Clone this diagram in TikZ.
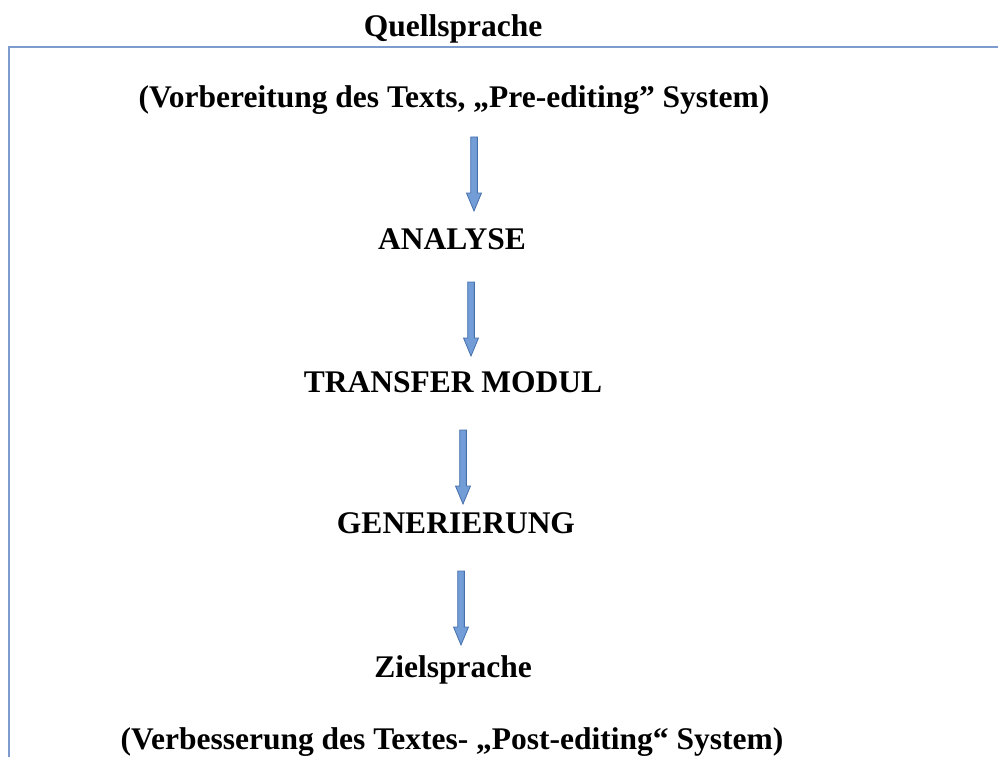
\documentclass[tikz,border=0pt]{standalone}
\usepackage{fontspec}
\setmainfont{Liberation Serif}
\usepackage{tikz}
\definecolor{framecol}{RGB}{125,155,205}
\definecolor{arrowfill}{RGB}{114,157,214}
\definecolor{arrowline}{RGB}{70,112,172}
\tikzset{
  stage/.style={anchor=base, inner sep=0pt, font=\fontsize{31.5}{36}\bfseries\selectfont},
  blockarr/.style={fill=arrowfill, draw=arrowline, line width=0.8pt, line join=miter}
}
% block arrow hanging from a named coordinate
\newcommand{\downarr}[1]{%
  \filldraw[blockarr] ($(#1)+(-3.35,0)$) -- ++(0,56) -- ++(-4.15,0)
    -- ++(7.5,18) -- ++(7.5,-18) -- ++(-4.15,0) -- ++(0,-56) -- cycle;}
\usetikzlibrary{calc}

\begin{document}
\begin{tikzpicture}[x=1pt,y=-1pt]
        \useasboundingbox (0,0) rectangle (998,757);
        \draw[framecol, line width=1.3pt] (998,47) -- (9,47) -- (9,757);
        \node[stage] (quelle) at (453,37) {Quellsprache};
        \node[stage] (pre) at (454,108) {(Vorbereitung des Texts, „Pre-editing” System)};
        \node[stage] (analyse) at (452,249) {ANALYSE};
        \node[stage] (transfer) at (453,392) {TRANSFER MODUL};
        \node[stage] (gen) at (456,533) {GENERIERUNG};
        \node[stage] (ziel) at (453,677) {Zielsprache};
        \node[stage] (post) at (452,749) {(Verbesserung des Textes- „Post-editing“ System)};
        \coordinate (arrA) at (474,137);
        \coordinate (arrB) at (471,282);
        \coordinate (arrC) at (463,430);
        \coordinate (arrD) at (461,571);
        \downarr{arrA}
        \downarr{arrB}
        \downarr{arrC}
        \downarr{arrD}
    \end{tikzpicture}
\end{document}
